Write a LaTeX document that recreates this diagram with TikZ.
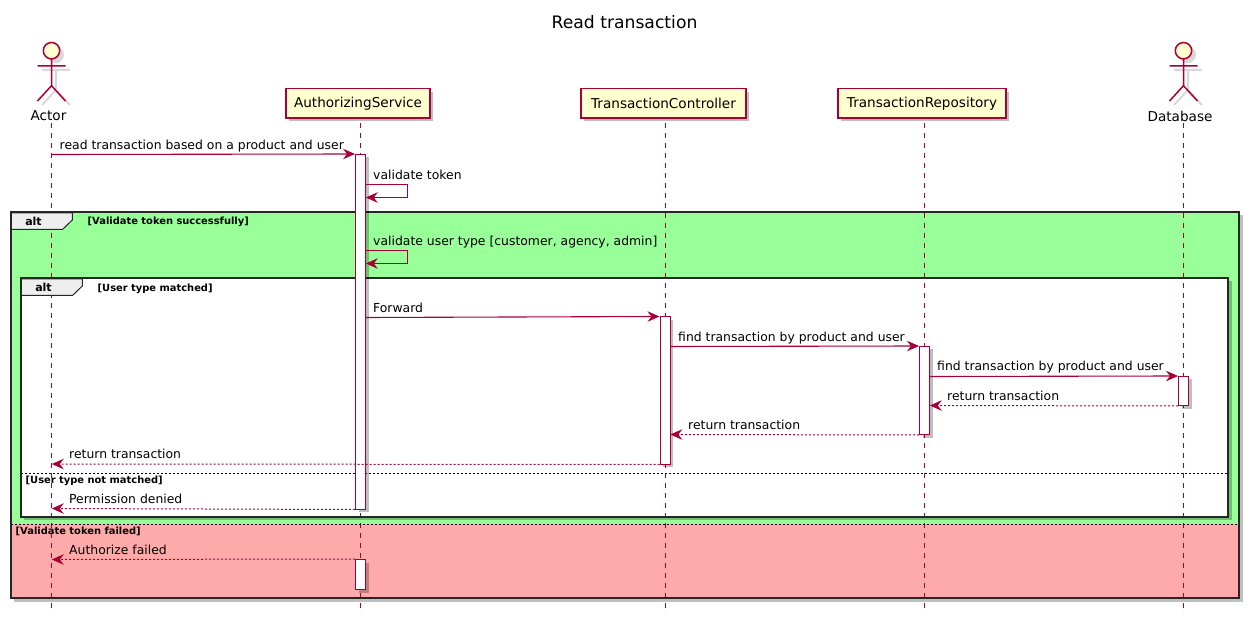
\documentclass[tikz,border=0pt]{standalone}
\usepackage{fontspec}
\setmainfont{DejaVu Sans}
\definecolor{umlred}{HTML}{A80036}
\definecolor{umlcream}{HTML}{FEFECE}
\definecolor{okgreen}{HTML}{99FF99}
\definecolor{failred}{HTML}{FFAAAA}
\definecolor{tabgrey}{HTML}{EEEEEE}
\usetikzlibrary{arrows.meta, shadows}
\tikzset{
  softshadow/.style={drop shadow={shadow xshift=3pt, shadow yshift=-3pt, fill=black, opacity=.25}},
  partbox/.style={draw=umlred, line width=1.5pt, fill=umlcream, softshadow, inner sep=0pt, minimum height=29.5pt, font=\fontsize{13.6}{16}\selectfont},
  actorlabel/.style={inner sep=0pt, font=\fontsize{13.6}{16}\selectfont},
  lifeline/.style={draw=umlred, line width=1pt, dash pattern=on 5pt off 5pt},
  activebar/.style={draw=umlred, line width=1pt, fill=white, softshadow, inner sep=0pt, minimum width=10pt},
  callarrow/.style={draw=umlred, line width=1.1pt, -{Stealth[inset=4pt, length=12pt, width=10.5pt]}},
  replyarrow/.style={callarrow, line width=1pt, dash pattern=on 2pt off 2pt},
  msglabel/.style={anchor=base west, inner sep=0pt, font=\fontsize{12.4}{15}\selectfont},
  guardlabel/.style={anchor=base west, inner sep=0pt, font=\fontsize{9.9}{12}\selectfont\bfseries},
  altlabel/.style={inner sep=0pt, font=\fontsize{11}{14}\selectfont\bfseries},
  framebox/.style={draw=black!85, line width=2pt},
  tabshape/.style={draw=black!85, line width=1pt, fill=tabgrey},
  divider/.style={draw=black, line width=1pt, dash pattern=on 2pt off 2pt},
  stick/.style={draw=umlred, line width=1.5pt},
  stickshadow/.style={draw=black!15, line width=2pt},
}
\begin{document}
\begin{tikzpicture}[x=1pt, y=-1pt]
  \useasboundingbox (0,0) rectangle (1251,620);
  \node[font=\fontsize{17.2}{21}\selectfont, inner sep=0pt] (title) at (624.5,22) {Read transaction};

  % frames
  \fill[black, opacity=.25] (13.5,215) rectangle (1242.5,601.5);
  \fill[okgreen] (10.5,212) rectangle (1239,524);
  \fill[failred] (10.5,524) rectangle (1239,598);
  \fill[black, opacity=.25] (23.5,281) rectangle (1231.5,520);
  \fill[white] (20.5,278) rectangle (1228,516.5);

  % lifelines
  \coordinate (actortail) at (51.5,123);
  \coordinate (actorend) at (51.5,613);
  \coordinate (authtail) at (360.5,123);
  \coordinate (authend) at (360.5,613);
  \coordinate (ctrltail) at (665,123);
  \coordinate (ctrlend) at (665,613);
  \coordinate (repotail) at (924.5,123);
  \coordinate (repoend) at (924.5,613);
  \coordinate (dbtail) at (1183.5,123);
  \coordinate (dbend) at (1183.5,613);
  \draw[lifeline] (actortail) -- (actorend);
  \draw[lifeline] (authtail) -- (authend);
  \draw[lifeline] (ctrltail) -- (ctrlend);
  \draw[lifeline] (repotail) -- (repoend);
  \draw[lifeline] (dbtail) -- (dbend);

  % alt tabs and borders
  \draw[tabshape] (11,213) -- (72.3,213) -- (72.3,220) -- (62.7,229.3) -- (11,229.3) -- cycle;
  \node[altlabel] (outeralt) at (33.5,221) {alt};
  \node[guardlabel] (okguard) at (87.5,224.5) {[Validate token successfully]};
  \draw[tabshape] (21,279) -- (82.3,279) -- (82.3,286) -- (72.7,295.3) -- (21,295.3) -- cycle;
  \node[altlabel] (inneralt) at (43.5,287) {alt};
  \node[guardlabel] (matchguard) at (97.5,291.5) {[User type matched]};
  \node[guardlabel] (nomatchguard) at (25.5,483.5) {[User type not matched]};
  \node[guardlabel] (failguard) at (15.5,534.5) {[Validate token failed]};
  \coordinate (innerdivl) at (21,473.5);
  \coordinate (innerdivr) at (1227,473.5);
  \coordinate (outerdivl) at (11,524);
  \coordinate (outerdivr) at (1238,524);
  \draw[divider] (innerdivl) -- (innerdivr);
  \draw[divider] (outerdivl) -- (outerdivr);
  \draw[framebox] (20.5,278) rectangle (1228,516.5);
  \draw[framebox] (10.5,212) rectangle (1239,598);

  % actors
  \draw[stickshadow] (42,70) -- (70,70) (56,70) -- (56,90) (56,90) -- (42,105) (56,90) -- (70,105);
  \fill[black!15] (55.5,54.7) circle (8.5);
  \draw[stick, fill=umlcream] (51.5,50.7) circle (8.2);
  \draw[stick] (51.5,59) -- (51.5,85.7) -- (37.5,101) (51.5,85.7) -- (65.5,101) (37.5,66) -- (65.5,66);
  \node[actorlabel] (actorname) at (48.5,116) {Actor};
  \draw[stickshadow] (1174,70) -- (1202,70) (1188,70) -- (1188,90) (1188,90) -- (1174,105) (1188,90) -- (1202,105);
  \fill[black!15] (1187.5,54.7) circle (8.5);
  \draw[stick, fill=umlcream] (1183.5,50.7) circle (8.2);
  \draw[stick] (1183.5,59) -- (1183.5,85.7) -- (1169.5,101) (1183.5,85.7) -- (1197.5,101) (1169.5,66) -- (1197.5,66);
  \node[actorlabel] (dbname) at (1180,116) {Database};

  % participants
  \node[partbox, minimum width=144pt] (authsvc) at (358,103.5) {AuthorizingService};
  \node[partbox, minimum width=165pt] (txctrl) at (663.5,103.5) {TransactionController};
  \node[partbox, minimum width=168pt] (txrepo) at (922,103.5) {TransactionRepository};

  % activation bars
  \node[activebar, minimum height=354.5pt] (authbar) at (360.5,331.75) {};
  \node[activebar, minimum height=30pt] (authfailbar) at (360.5,574.5) {};
  \node[activebar, minimum height=147pt] (ctrlbar) at (665,390.5) {};
  \node[activebar, minimum height=88pt] (repobar) at (924.5,390.5) {};
  \node[activebar, minimum height=29pt] (dbbar) at (1183.5,391) {};

  % messages
  \coordinate (actorread) at (51.5,154.5);
  \draw[callarrow] (actorread) -- (authbar.north west);
  \node[msglabel] (readmsg) at (59.5,149.5) {read transaction based on a product and user};
  \coordinate (tokenfrom) at (365.5,184.5);
  \coordinate (tokento) at (365.8,197.5);
  \draw[callarrow] (tokenfrom) -- ++(42,0) |- (tokento);
  \node[msglabel] (tokenmsg) at (373,179.5) {validate token};
  \coordinate (typefrom) at (365.5,250.5);
  \coordinate (typeto) at (365.8,263.5);
  \draw[callarrow] (typefrom) -- ++(42,0) |- (typeto);
  \node[msglabel] (typemsg) at (373,245.5) {validate user type [customer, agency, admin]};
  \coordinate (fwdfrom) at (365.5,317.5);
  \draw[callarrow] (fwdfrom) -- (ctrlbar.north west);
  \node[msglabel] (fwdmsg) at (373,312.5) {Forward};
  \coordinate (findfrom) at (670,346.5);
  \draw[callarrow] (findfrom) -- (repobar.north west);
  \node[msglabel] (findmsg) at (678,341.5) {find transaction by product and user};
  \coordinate (dbfrom) at (929.5,376.5);
  \draw[callarrow] (dbfrom) -- (dbbar.north west);
  \node[msglabel] (dbmsg) at (937,371) {find transaction by product and user};
  \coordinate (dbretto) at (929.8,405.5);
  \draw[replyarrow] (dbbar.south west) -- (dbretto);
  \node[msglabel] (dbretmsg) at (947,400.5) {return transaction};
  \coordinate (repoto) at (670.3,434.5);
  \draw[replyarrow] (repobar.south west) -- (repoto);
  \node[msglabel] (repomsg) at (688,429.5) {return transaction};
  \coordinate (actorret) at (51.8,464);
  \draw[replyarrow] (ctrlbar.south west) -- (actorret);
  \node[msglabel] (retmsg) at (69,458.5) {return transaction};
  \coordinate (actordeny) at (51.8,508.5);
  \draw[replyarrow] (authbar.south west) -- (actordeny);
  \node[msglabel] (denymsg) at (69,503.5) {Permission denied};
  \coordinate (actorfail) at (51.8,559.5);
  \draw[replyarrow] (authfailbar.north west) -- (actorfail);
  \node[msglabel] (failmsg) at (69,554.5) {Authorize failed};
\end{tikzpicture}
\end{document}
